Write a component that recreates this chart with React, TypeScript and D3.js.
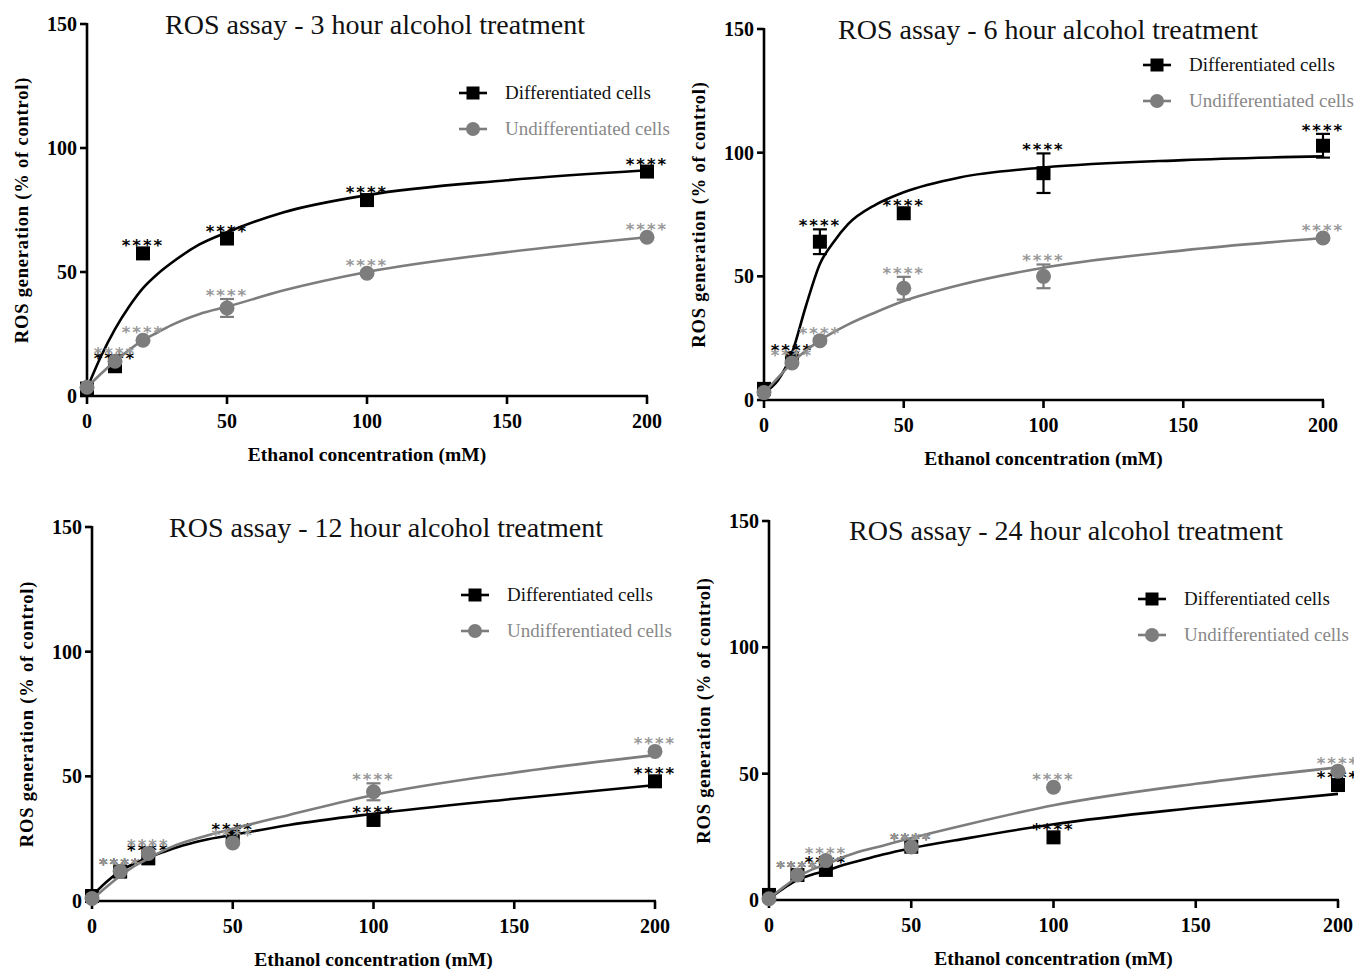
import React from 'react';
import * as d3 from 'd3';

// ---- data ----
const doses = [0, 10, 20, 50, 100, 200];
const fitDoses = [0, 5, 10, 15, 20, 25, 30, 40, 50, 70, 100, 150, 200];
const xTicks = [0, 50, 100, 150, 200];
const yTicks = [0, 50, 100, 150];
const seriesNames = ['Differentiated cells', 'Undifferentiated cells'];
const titles = [
  'ROS assay - 3 hour alcohol treatment',
  'ROS assay - 6 hour alcohol treatment',
  'ROS assay - 12 hour alcohol treatment',
  'ROS assay - 24 hour alcohol treatment',
];
const stars = '****';

// 3 hour
const diff3 = [3, 12, 57.5, 63.5, 79, 90.5];
const diff3Err = [0, 0, 0, 0, 0, 0];
const undiff3 = [3.5, 14, 22.5, 35.5, 49.5, 64];
const undiff3Err = [0, 0, 0, 3.6, 0, 0];
const diff3Fit = [3, 16, 27, 36, 43.5, 49, 53.5, 61, 66, 74, 81, 87, 91];
const undiff3Fit = [3.5, 9, 14, 18.5, 22.5, 25.5, 28.5, 33, 36, 42.5, 50, 58, 64];

// 6 hour
const diff6 = [4.5, 17, 64, 75.5, 91.7, 102.8];
const diff6Err = [0, 0, 5, 0, 8, 4.8];
const undiff6 = [3, 15, 24, 45.2, 50, 65.5];
const undiff6Err = [0, 0, 0, 4.6, 4.8, 0];
const diff6Fit = [3, 8, 19, 38, 55, 64, 71, 79, 84, 90, 94, 97, 98.5];
const undiff6Fit = [3, 9, 15, 20, 24, 27.5, 30.5, 35.5, 40, 46.5, 53.5, 60.5, 65.5];

// 12 hour
const diff12 = [2, 11.8, 17.1, 25.8, 32.5, 48];
const diff12Err = [0, 0, 0, 0, 0, 0];
const undiff12 = [1, 11.8, 19.1, 23.3, 43.8, 60];
const undiff12Err = [0, 0, 0, 0, 3.4, 0];
const diff12Fit = [2, 7.5, 12, 15, 17.5, 19.5, 21.5, 24.5, 26.5, 30.5, 35, 41, 46.5];
const undiff12Fit = [0.5, 5.5, 10, 14, 17, 20, 22.5, 26, 29, 34.5, 42.5, 51.5, 58.5];

// 24 hour
const diff24 = [2, 9.9, 11.9, 21.1, 24.8, 45.5];
const diff24Err = [0, 0, 0, 0, 0, 0];
const undiff24 = [0.5, 9.9, 15.6, 21, 44.6, 51];
const undiff24Err = [0, 0, 0, 0, 0, 0];
const diff24Fit = [0.5, 4.5, 8, 10, 11.5, 13.5, 15, 18, 20.5, 24.5, 30, 36.5, 42];
const undiff24Fit = [0.5, 5, 9, 12, 14, 16.5, 18.5, 21.5, 24.5, 30, 37.5, 46, 52.5];

// ---- layout (pixel frame of each panel) ----
const layouts = [
  { x0: 87, x1: 647, yTop: 24, yBot: 396, lx: 473, ly: 93, tx: 375, ty: 34 },
  { x0: 764, x1: 1323, yTop: 29, yBot: 400, lx: 1157, ly: 65, tx: 1048, ty: 39 },
  { x0: 92, x1: 655, yTop: 527, yBot: 901, lx: 475, ly: 595, tx: 386, ty: 537 },
  { x0: 769, x1: 1338, yTop: 521, yBot: 900, lx: 1152, ly: 599, tx: 1066, ty: 540 },
];

const panels = [
  { title: titles[0], diff: diff3, diffErr: diff3Err, undiff: undiff3, undiffErr: undiff3Err, diffFit: diff3Fit, undiffFit: undiff3Fit },
  { title: titles[1], diff: diff6, diffErr: diff6Err, undiff: undiff6, undiffErr: undiff6Err, diffFit: diff6Fit, undiffFit: undiff6Fit },
  { title: titles[2], diff: diff12, diffErr: diff12Err, undiff: undiff12, undiffErr: undiff12Err, diffFit: diff12Fit, undiffFit: undiff12Fit },
  { title: titles[3], diff: diff24, diffErr: diff24Err, undiff: undiff24, undiffErr: undiff24Err, diffFit: diff24Fit, undiffFit: undiff24Fit },
];

const SERIF = '"Liberation Serif", "Times New Roman", serif';
const STAR_FONT = '"DejaVu Sans", sans-serif';
const BLACK = '#000';
const GREY = '#7d7d7d';
const GREY_STAR = '#999';
const GREY_TEXT = '#888';

type SeriesProps = {
  values: number[];
  err: number[];
  fit: number[];
  x: d3.ScaleLinear<number, number>;
  y: d3.ScaleLinear<number, number>;
  color: string;
  starColor: string;
  shape: 'square' | 'circle';
};

const Series = ({ values, err, fit, x, y, color, starColor, shape }: SeriesProps) => {
  const line = d3.line<number>()
    .x((d, i) => x(fitDoses[i]))
    .y((d) => y(d))
    .curve(d3.curveMonotoneX);

  return (
    <g>
      <path d={line(fit) || ''} fill="none" stroke={color} strokeWidth={2.6} strokeLinejoin="round" />
      {values.map((v, i) => {
        const cx = x(doses[i]);
        const cy = y(v);
        const e = err[i];
        return (
          <g key={'e' + i}>
            {e > 0 && (
              <g stroke={color} strokeWidth={2.2}>
                <line x1={cx} x2={cx} y1={y(v - e)} y2={y(v + e)} />
                <line x1={cx - 7} x2={cx + 7} y1={y(v + e)} y2={y(v + e)} />
                <line x1={cx - 7} x2={cx + 7} y1={y(v - e)} y2={y(v - e)} />
              </g>
            )}
            {shape === 'square'
              ? <rect x={cx - 7} y={cy - 7} width={14} height={14} fill={color} />
              : <circle cx={cx} cy={cy} r={7.5} fill={color} />}
          </g>
        );
      })}
      {values.map((v, i) => {
        if (doses[i] === 0) return null;
        const cx = x(doses[i]);
        const top = Math.min(y(v) - 12, y(v + err[i]) - 8);
        return (
          <text key={'s' + i} x={cx} y={top + 10} textAnchor="middle"
            fontFamily={STAR_FONT} fontWeight="bold" fontSize={16.5}
            letterSpacing={2} fill={starColor}>
            {stars}
          </text>
        );
      })}
    </g>
  );
};

const Panel = ({ data, lay }: { data: typeof panels[0]; lay: typeof layouts[0] }) => {
  const x = d3.scaleLinear().domain([0, 200]).range([lay.x0, lay.x1]);
  const y = d3.scaleLinear().domain([0, 150]).range([lay.yBot, lay.yTop]);
  const midX = (lay.x0 + lay.x1) / 2;
  const midY = (lay.yTop + lay.yBot) / 2;

  return (
    <g>
      <text x={lay.tx} y={lay.ty} textAnchor="middle" fontFamily={SERIF} fontSize={28} fill="#111">
        {data.title}
      </text>

      {/* axes */}
      <g stroke={BLACK} strokeWidth={2.6} fill="none">
        <line x1={lay.x0} x2={lay.x0} y1={lay.yTop - 1} y2={lay.yBot + 1} />
        <line x1={lay.x0 - 1} x2={lay.x1 + 1} y1={lay.yBot} y2={lay.yBot} />
        {yTicks.map((t) => (
          <line key={t} x1={lay.x0 - 7} x2={lay.x0} y1={y(t)} y2={y(t)} />
        ))}
        {xTicks.map((t) => (
          <line key={t} x1={x(t)} x2={x(t)} y1={lay.yBot} y2={lay.yBot + 8} />
        ))}
      </g>
      {yTicks.map((t) => (
        <text key={t} x={lay.x0 - 10} y={y(t) + 7} textAnchor="end"
          fontFamily={SERIF} fontWeight="bold" fontSize={20} fill={BLACK}>{t}</text>
      ))}
      {xTicks.map((t) => (
        <text key={t} x={x(t)} y={lay.yBot + 32} textAnchor="middle"
          fontFamily={SERIF} fontWeight="bold" fontSize={20} fill={BLACK}>{t}</text>
      ))}
      <text x={midX} y={lay.yBot + 65} textAnchor="middle" fontFamily={SERIF}
        fontWeight="bold" fontSize={19.5} fill={BLACK}>Ethanol concentration (mM)</text>
      <text transform={`translate(${lay.x0 - 59},${midY}) rotate(-90)`} textAnchor="middle"
        fontFamily={SERIF} fontWeight="bold" fontSize={18.5} letterSpacing={0.8} fill={BLACK}>
        ROS generation (% of control)
      </text>

      <Series values={data.diff} err={data.diffErr} fit={data.diffFit} x={x} y={y}
        color={BLACK} starColor={BLACK} shape="square" />
      <Series values={data.undiff} err={data.undiffErr} fit={data.undiffFit} x={x} y={y}
        color={GREY} starColor={GREY_STAR} shape="circle" />

      {/* legend */}
      <g>
        <line x1={lay.lx - 14} x2={lay.lx + 14} y1={lay.ly} y2={lay.ly} stroke={BLACK} strokeWidth={2.6} />
        <rect x={lay.lx - 6.5} y={lay.ly - 6.5} width={13} height={13} fill={BLACK} />
        <text x={lay.lx + 32} y={lay.ly + 6} fontFamily={SERIF} fontSize={19} fill="#111">{seriesNames[0]}</text>
        <line x1={lay.lx - 14} x2={lay.lx + 14} y1={lay.ly + 36} y2={lay.ly + 36} stroke={GREY} strokeWidth={2.6} />
        <circle cx={lay.lx} cy={lay.ly + 36} r={7} fill={GREY} />
        <text x={lay.lx + 32} y={lay.ly + 42} fontFamily={SERIF} fontSize={19} fill={GREY_TEXT}>{seriesNames[1]}</text>
      </g>
    </g>
  );
};

const App = () => (
  <svg width={1354} height={969} viewBox="0 0 1354 969"
    style={{ position: 'absolute', left: 0, top: 0, background: '#fff' }}>
    <rect width={1354} height={969} fill="#fff" />
    {panels.map((p, i) => (
      <Panel key={i} data={p} lay={layouts[i]} />
    ))}
  </svg>
);

export default App;
